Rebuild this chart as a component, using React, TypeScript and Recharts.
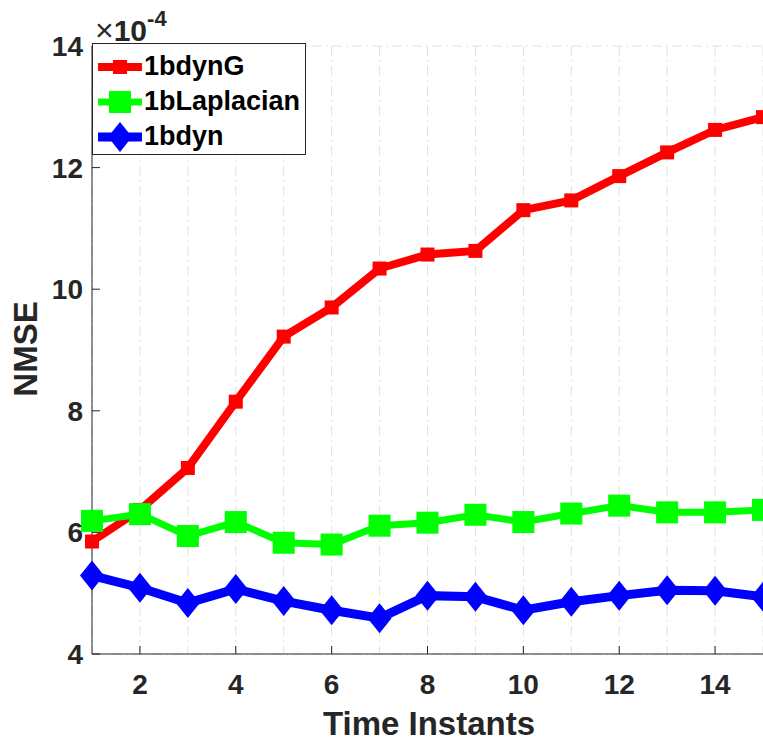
import { LineChart, Line, XAxis, YAxis, CartesianGrid, Legend, Label } from "recharts";

// NMSE per time instant, in units of 1e-4
const timeInstants = [1, 2, 3, 4, 5, 6, 7, 8, 9, 10, 11, 12, 13, 14, 15];
const bdynG = [5.85, 6.37, 7.06, 8.15, 9.22, 9.7, 10.34, 10.57, 10.63, 11.3, 11.46, 11.86, 12.25, 12.62, 12.83];
const bLaplacian = [6.19, 6.3, 5.94, 6.17, 5.83, 5.8, 6.11, 6.16, 6.29, 6.17, 6.31, 6.44, 6.33, 6.33, 6.37];
const bdyn = [5.29, 5.09, 4.84, 5.07, 4.87, 4.72, 4.59, 4.96, 4.94, 4.72, 4.86, 4.96, 5.05, 5.04, 4.94];

const xTicks = [2, 4, 6, 8, 10, 12, 14];
const yTicks = [4, 6, 8, 10, 12, 14];

const RED = "#ff0000";
const GREEN = "#00ff00";
const BLUE = "#0000ff";
const INK = "#262626";
const FONT = "'Liberation Sans', Arial, Helvetica, sans-serif";

const data = timeInstants.map((t, i) => ({
  t,
  bdynG: bdynG[i],
  bLaplacian: bLaplacian[i],
  bdyn: bdyn[i],
}));

type MarkerKind = "smallSquare" | "square" | "diamond";

const Marker = ({ kind, cx, cy, color }: { kind: MarkerKind; cx: number; cy: number; color: string }) => {
  if (kind === "smallSquare") {
    return <rect x={cx - 7} y={cy - 7} width={14} height={14} fill={color} />;
  }
  if (kind === "square") {
    return <rect x={cx - 11} y={cy - 11} width={22} height={22} fill={color} />;
  }
  return (
    <polygon
      points={`${cx},${cy - 15} ${cx + 12},${cy} ${cx},${cy + 15} ${cx - 12},${cy}`}
      fill={color}
    />
  );
};

const makeDot = (kind: MarkerKind, color: string) => (p: any) => (
  <Marker key={`${kind}-${p.index}`} kind={kind} cx={p.cx} cy={p.cy} color={color} />
);

const legendItems: { name: string; color: string; kind: MarkerKind; width: number }[] = [
  { name: "1bdynG", color: RED, kind: "smallSquare", width: 8 },
  { name: "1bLaplacian", color: GREEN, kind: "square", width: 7 },
  { name: "1bdyn", color: BLUE, kind: "diamond", width: 9 },
];

const LegendBox = () => (
  <div
    style={{
      border: `1px solid ${INK}`,
      background: "#fff",
      width: 214,
      height: 112,
      paddingTop: 5,
      boxSizing: "border-box",
      fontFamily: FONT,
      fontWeight: 700,
      fontSize: 27,
      color: "#000",
    }}
  >
    {legendItems.map((item) => (
      <div key={item.name} style={{ display: "flex", alignItems: "center", height: 35 }}>
        <svg width={46} height={34} style={{ marginLeft: 4, marginRight: 1 }}>
          <line x1={1} y1={17} x2={45} y2={17} stroke={item.color} strokeWidth={item.width} />
          <Marker kind={item.kind} cx={23} cy={17} color={item.color} />
        </svg>
        <span>{item.name}</span>
      </div>
    ))}
  </div>
);

const tickStyle = { fill: INK, fontSize: 28, fontWeight: 700, fontFamily: FONT };

export default function App() {
  return (
    <div style={{ position: "absolute", left: 0, top: 0, background: "#fff" }}>
      <LineChart width={763} height={742} data={data} margin={{ top: 46, right: 0, bottom: 0, left: 0 }}>
        <CartesianGrid stroke="#e0e0e0" strokeDasharray="10 4 2 4" />
        <XAxis
          xAxisId="bottom"
          dataKey="t"
          type="number"
          domain={[1, 15]}
          ticks={xTicks}
          height={88}
          stroke={INK}
          tickSize={-8}
          tickMargin={28}
          tick={tickStyle}
        >
          <Label
            content={() => (
              <text x={429} y={735} textAnchor="middle" fill={INK} fontSize={33} fontWeight={700} fontFamily={FONT}>
                Time Instants
              </text>
            )}
          />
        </XAxis>
        <XAxis
          xAxisId="top"
          orientation="top"
          dataKey="t"
          type="number"
          domain={[1, 15]}
          ticks={xTicks}
          height={0}
          stroke={INK}
          tickSize={-8}
          tickFormatter={() => ""}
        />
        <YAxis
          yAxisId="left"
          type="number"
          domain={[4, 14]}
          ticks={yTicks}
          width={92}
          stroke={INK}
          tickSize={-8}
          tickMargin={17}
          tick={tickStyle}
        >
          <Label
            content={() => (
              <text
                x={37}
                y={349}
                transform="rotate(-90 37 349)"
                textAnchor="middle"
                fill={INK}
                fontSize={33}
                fontWeight={700}
                fontFamily={FONT}
              >
                NMSE
              </text>
            )}
          />
          <Label
            content={() => (
              <text x={95} y={41} fill={INK} fontWeight={700} fontFamily={FONT}>
                <tspan fontSize={32} fontWeight={400}>×</tspan>
                <tspan fontSize={30}>10</tspan>
                <tspan fontSize={22} dy={-15}>-4</tspan>
              </text>
            )}
          />
        </YAxis>
        <YAxis
          yAxisId="right"
          orientation="right"
          type="number"
          domain={[4, 14]}
          ticks={yTicks}
          width={0}
          stroke={INK}
          axisLine={false}
          tickSize={-8}
          tickFormatter={() => ""}
        />
        <Legend
          layout="vertical"
          align="center"
          verticalAlign="middle"
          content={() => <LegendBox />}
          wrapperStyle={{ left: 92, top: 43, width: "auto", height: "auto" }}
        />
        <Line
          xAxisId="bottom"
          yAxisId="left"
          dataKey="bdynG"
          stroke={RED}
          strokeWidth={8}
          dot={makeDot("smallSquare", RED)}
          activeDot={false}
          isAnimationActive={false}
        />
        <Line
          xAxisId="bottom"
          yAxisId="left"
          dataKey="bLaplacian"
          stroke={GREEN}
          strokeWidth={7}
          dot={makeDot("square", GREEN)}
          activeDot={false}
          isAnimationActive={false}
        />
        <Line
          xAxisId="bottom"
          yAxisId="left"
          dataKey="bdyn"
          stroke={BLUE}
          strokeWidth={9}
          dot={makeDot("diamond", BLUE)}
          activeDot={false}
          isAnimationActive={false}
        />
      </LineChart>
    </div>
  );
}
